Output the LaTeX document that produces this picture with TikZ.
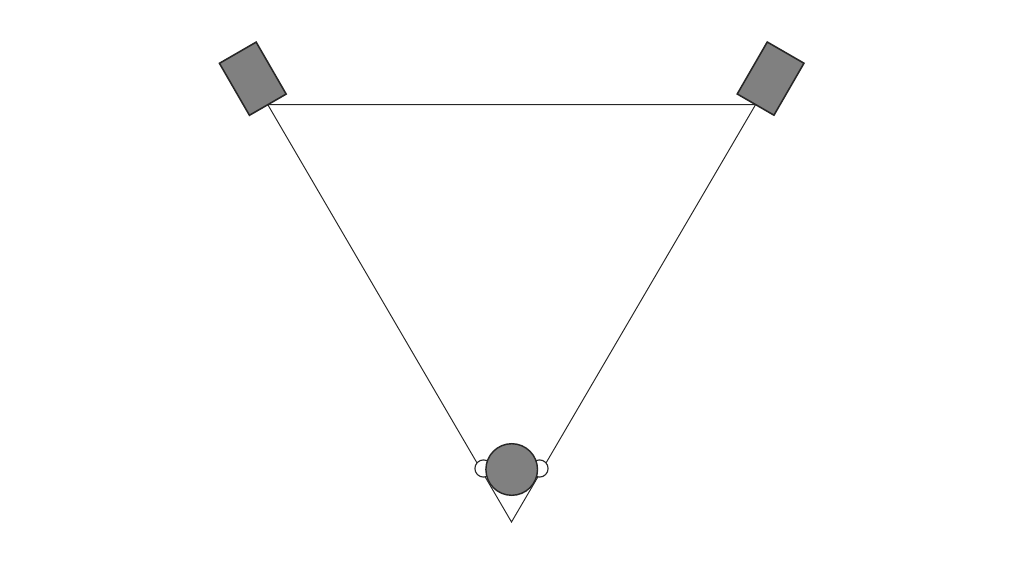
\documentclass[tikz,border=0pt]{standalone}
\usepackage{tikz}
\usetikzlibrary{calc}

\definecolor{boxgray}{RGB}{128,128,128}

\begin{document}
\begin{tikzpicture}[x=0.025cm,y=-0.025cm,
  speaker/.style={draw=black!85,line width=1.1pt,fill=boxgray,rectangle,
    minimum width=1.06cm,minimum height=1.5cm,inner sep=0pt,outer sep=0pt},
  ear/.style={draw=black!85,line width=0.8pt,fill=white,circle,
    minimum size=0.43cm,inner sep=0pt},
  head/.style={draw=black!85,line width=1pt,fill=boxgray,circle,
    minimum size=1.29cm,inner sep=0pt}]

\useasboundingbox (0,0) rectangle (1024,565);

\node[speaker,rotate=30] (SL) at (252.8,78.7) {};
\node[speaker,rotate=-30] (SR) at (770.6,78.6) {};
\coordinate (A) at (511.5,522);

\draw[black!85,line width=0.7pt] (SL.south) -- (SR.south) -- (A) -- cycle;

\node[ear] (EL) at (483.5,468.5) {};
\node[ear] (ER) at (539.5,468.5) {};
\node[head] (H) at (511.7,469.5) {};

\end{tikzpicture}
\end{document}
